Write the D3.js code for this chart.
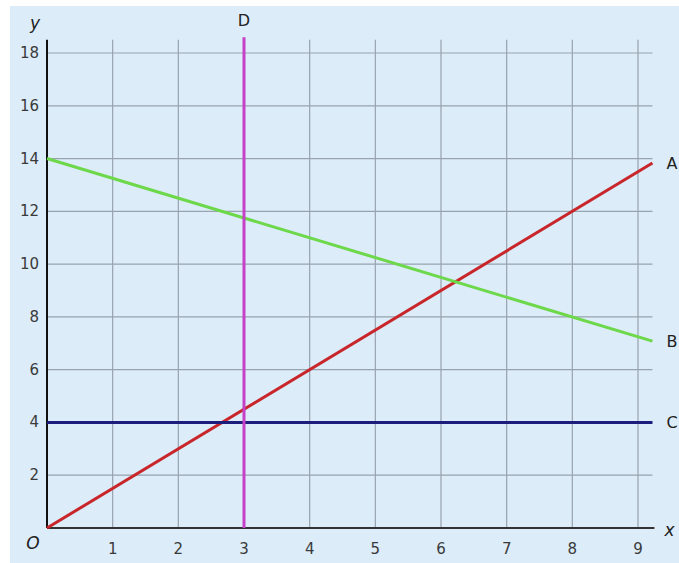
<!DOCTYPE html>
<html>
<head>
    <title>Lines A B C D</title>
    <script src="https://d3js.org/d3.v7.min.js"></script>
    <style>
        body { margin: 0; background: #fff; }
        .grid line { stroke: #97a3ae; stroke-width: 1.2; }
        .tick-label { font-family: "DejaVu Sans", sans-serif; font-size: 15px; fill: #3a3a3a; }
        .line-label { font-family: "DejaVu Sans", sans-serif; font-size: 16px; fill: #222; }
        .axis-name { font-family: "DejaVu Sans", sans-serif; font-size: 17px; font-style: italic; fill: #222; }
    </style>
</head>
<body>
    <svg width="679" height="563"></svg>

    <script>
        // data
        const xTicks = [1, 2, 3, 4, 5, 6, 7, 8, 9];
        const yTicks = [2, 4, 6, 8, 10, 12, 14, 16, 18];
        const lineA = [[0, 0], [9.22, 13.83]];      // y = 1.5x
        const lineB = [[0, 14], [9.22, 7.08]];      // y = 14 - 0.75x
        const lineC = [[0, 4], [9.22, 4]];          // y = 4
        const lineD = [[3, 0], [3, 18.6]];          // x = 3
        const lineNames = ["A", "B", "C", "D"];

        const svg = d3.select("svg");

        // background panel
        svg.append("rect")
            .attr("x", 10).attr("y", 6)
            .attr("width", 669).attr("height", 557)
            .attr("fill", "#dcecf9");

        const x = d3.scaleLinear().domain([0, 9]).range([47, 638]);
        const y = d3.scaleLinear().domain([0, 18]).range([528, 53]);
        const xMax = 9.22;
        const yTop = 18.5;

        // grid
        const grid = svg.append("g").attr("class", "grid");
        grid.selectAll("line.v")
            .data(xTicks)
            .enter().append("line")
            .attr("class", "v")
            .attr("x1", d => x(d)).attr("x2", d => x(d))
            .attr("y1", y(0)).attr("y2", y(yTop));
        grid.selectAll("line.h")
            .data(yTicks)
            .enter().append("line")
            .attr("class", "h")
            .attr("x1", x(0)).attr("x2", x(xMax))
            .attr("y1", d => y(d)).attr("y2", d => y(d));

        // axes
        svg.append("line")
            .attr("x1", x(0)).attr("x2", x(0))
            .attr("y1", y(0)).attr("y2", y(yTop))
            .attr("stroke", "#111").attr("stroke-width", 2);
        svg.append("line")
            .attr("x1", x(0)).attr("x2", x(9.25))
            .attr("y1", y(0)).attr("y2", y(0))
            .attr("stroke", "#333").attr("stroke-width", 2);

        // tick labels
        svg.append("g").selectAll("text")
            .data(xTicks)
            .enter().append("text")
            .attr("class", "tick-label")
            .attr("x", d => x(d))
            .attr("y", y(0) + 26)
            .attr("text-anchor", "middle")
            .text(d => d);
        svg.append("g").selectAll("text")
            .data(yTicks)
            .enter().append("text")
            .attr("class", "tick-label")
            .attr("x", x(0) - 8)
            .attr("y", d => y(d) + 5)
            .attr("text-anchor", "end")
            .text(d => d);

        svg.append("text").attr("class", "axis-name")
            .attr("x", 33).attr("y", 549).attr("text-anchor", "middle").text("O");
        svg.append("text").attr("class", "axis-name")
            .attr("x", 35).attr("y", 29).attr("text-anchor", "middle").text("y");
        svg.append("text").attr("class", "axis-name")
            .attr("x", x(9.25) + 15).attr("y", y(0) + 8).attr("text-anchor", "middle").text("x");

        // lines
        const lines = [
            { name: lineNames[0], pts: lineA, color: "#c8262a" },
            { name: lineNames[1], pts: lineB, color: "#6cd84a" },
            { name: lineNames[2], pts: lineC, color: "#1c1c7c" },
            { name: lineNames[3], pts: lineD, color: "#c640c8" }
        ];
        const lineGen = d3.line().x(d => x(d[0])).y(d => y(d[1]));

        svg.append("g").selectAll("path")
            .data(lines)
            .enter().append("path")
            .attr("d", d => lineGen(d.pts))
            .attr("fill", "none")
            .attr("stroke", d => d.color)
            .attr("stroke-width", 3);

        // line labels
        svg.append("g").selectAll("text")
            .data(lines)
            .enter().append("text")
            .attr("class", "line-label")
            .attr("x", d => d.name === "D" ? x(d.pts[1][0]) : x(d.pts[1][0]) + 14)
            .attr("y", d => d.name === "D" ? y(d.pts[1][1]) - 11 : y(d.pts[1][1]) + 6)
            .attr("text-anchor", d => d.name === "D" ? "middle" : "start")
            .text(d => d.name);
    </script>
</body>
</html>
